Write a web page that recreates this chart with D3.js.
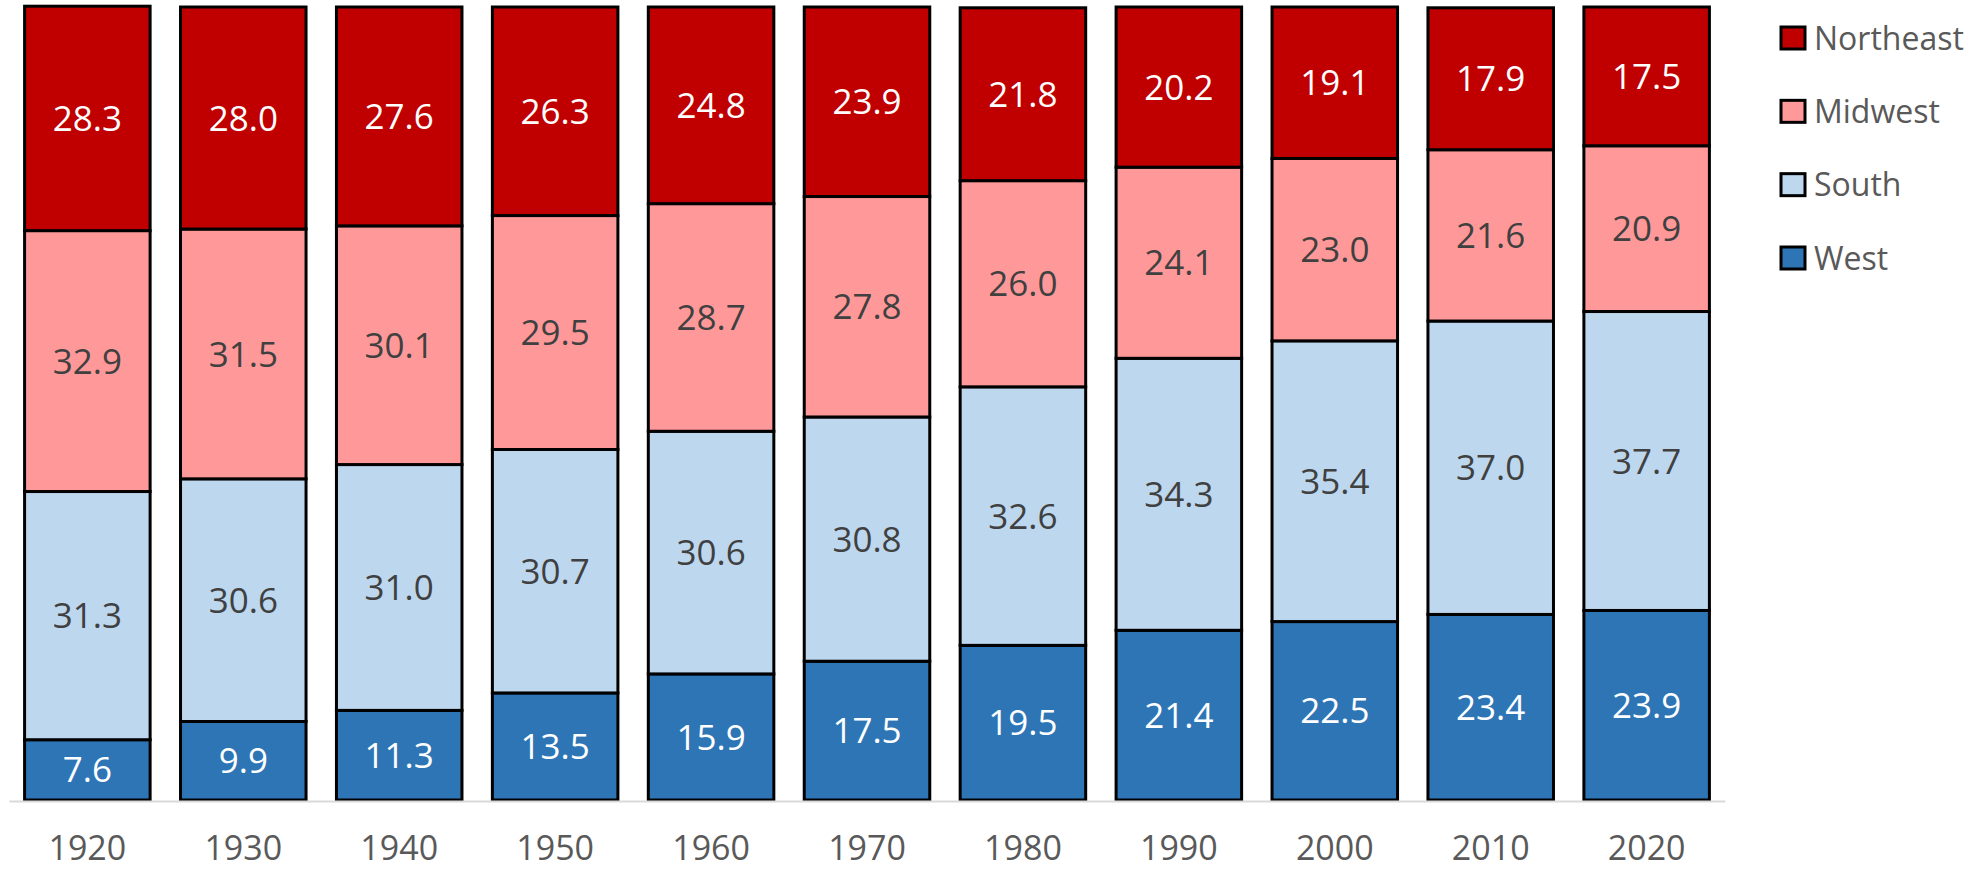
<!DOCTYPE html>
<html>
<head>
<meta charset="utf-8">
<script src="https://cdn.jsdelivr.net/npm/d3@7"></script>
<style>
  html, body { margin: 0; padding: 0; background: #fff; }
  svg { display: block; }
  text { font-family: "Open Sans", "Noto Sans", sans-serif; }
</style>
</head>
<body>
<svg id="chart" width="1981" height="869"></svg>
<script>
const years = ["1920","1930","1940","1950","1960","1970","1980","1990","2000","2010","2020"];
const regions = ["West","South","Midwest","Northeast"];
const west      = [7.6, 9.9, 11.3, 13.5, 15.9, 17.5, 19.5, 21.4, 22.5, 23.4, 23.9];
const south     = [31.3, 30.6, 31.0, 30.7, 30.6, 30.8, 32.6, 34.3, 35.4, 37.0, 37.7];
const midwest   = [32.9, 31.5, 30.1, 29.5, 28.7, 27.8, 26.0, 24.1, 23.0, 21.6, 20.9];
const northeast = [28.3, 28.0, 27.6, 26.3, 24.8, 23.9, 21.8, 20.2, 19.1, 17.9, 17.5];
const legendOrder = ["Northeast","Midwest","South","West"];

const colors = {Northeast:"#C00000", Midwest:"#FF9999", South:"#BDD7EE", West:"#2E75B6"};
const labelColors = {Northeast:"#ffffff", Midwest:"#404040", South:"#404040", West:"#ffffff"};

const rows = years.map((y,i) => ({year:y, West:west[i], South:south[i], Midwest:midwest[i], Northeast:northeast[i]}));
const series = d3.stack().keys(regions)(rows);

const svg = d3.select("#chart");
const x = d3.scaleBand().domain(years).range([9, 1725]).paddingInner(0.195).paddingOuter(0.1);
const y = d3.scaleLinear().domain([0, 100]).range([800, 7]);

const g = svg.append("g");
series.forEach(s => {
  const key = s.key;
  const grp = g.append("g");
  grp.selectAll("rect").data(s).join("rect")
    .attr("x", d => x(d.data.year))
    .attr("width", x.bandwidth())
    .attr("y", d => y(d[1]))
    .attr("height", d => y(d[0]) - y(d[1]))
    .attr("fill", colors[key])
    .attr("stroke", "#000")
    .attr("stroke-width", 3);
  grp.selectAll("text").data(s).join("text")
    .attr("x", d => x(d.data.year) + x.bandwidth()/2)
    .attr("y", d => (y(d[0]) + y(d[1]))/2)
    .attr("dy", "0.36em")
    .attr("text-anchor", "middle")
    .attr("font-size", 35)
    .attr("fill", labelColors[key])
    .text(d => d.data[key].toFixed(1));
});

// x axis
const axis = svg.append("g").attr("transform", "translate(0,801)")
  .call(d3.axisBottom(x).tickSize(0).tickPadding(35));
axis.select(".domain").attr("stroke", "#d9d9d9").attr("stroke-width", 2);
axis.selectAll(".tick text").attr("font-size", 34).attr("fill", "#595959")
  .style("font-family", "'Open Sans', 'Noto Sans', sans-serif");

// legend
const leg = svg.append("g");
const ly = d3.scalePoint().domain(legendOrder).range([38, 258]);
legendOrder.forEach(k => {
  leg.append("rect")
    .attr("x", 1781).attr("y", ly(k) - 11)
    .attr("width", 24).attr("height", 22)
    .attr("fill", colors[k]).attr("stroke", "#000").attr("stroke-width", 3);
  leg.append("text")
    .attr("x", 1814).attr("y", ly(k)).attr("dy", "0.36em")
    .attr("font-size", 32).attr("fill", "#595959").text(k);
});
</script>
</body>
</html>
